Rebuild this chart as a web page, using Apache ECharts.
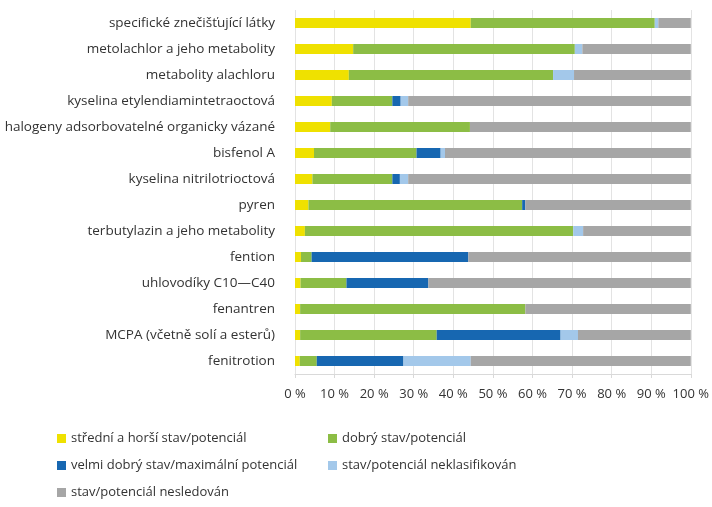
<!DOCTYPE html>
<html>
<head>
    <meta charset="utf-8" />
    <script src="https://cdn.jsdelivr.net/npm/echarts@6.0.0/dist/echarts.min.js"></script>
    <style>
        body { margin: 0; background: #fff; }
        #main { width: 712px; height: 507px; }
    </style>
</head>
<body>
    <div id="main"></div>
<script type="text/javascript">
    // kategorie (shora dolů)
    var categories = [
        'specifické znečišťující látky',
        'metolachlor a jeho metabolity',
        'metabolity alachloru',
        'kyselina etylendiamintetraoctová',
        'halogeny adsorbovatelné organicky vázané',
        'bisfenol A',
        'kyselina nitrilotrioctová',
        'pyren',
        'terbutylazin a jeho metabolity',
        'fention',
        'uhlovodíky C10—C40',
        'fenantren',
        'MCPA (včetně solí a esterů)',
        'fenitrotion'
    ];
    var seriesNames = [
        'střední a horší stav/potenciál',
        'dobrý stav/potenciál',
        'velmi dobrý stav/maximální potenciál',
        'stav/potenciál neklasifikován',
        'stav/potenciál nesledován'
    ];
    // podíly v %
    var stredni   = [44.4, 14.7, 13.6, 9.3, 8.9, 4.8, 4.4, 3.4, 2.5, 1.5, 1.4, 1.3, 1.3, 1.2];
    var dobry     = [46.5, 56.0, 51.6, 15.3, 35.3, 25.9, 20.2, 54.0, 67.8, 2.7, 11.6, 56.9, 34.5, 4.3];
    var velmi     = [0, 0, 0, 2.1, 0, 6.1, 1.9, 0.8, 0, 39.6, 20.7, 0, 31.3, 21.9];
    var neklas    = [0.9, 1.9, 5.3, 1.9, 0, 1.1, 2.1, 0, 2.5, 0, 0, 0, 4.4, 17.0];
    var nesledovan = [8.2, 27.4, 29.5, 71.4, 55.8, 62.1, 71.4, 41.8, 27.2, 56.2, 66.3, 41.8, 28.5, 55.6];

    var colors = ['#efe100', '#8cbd45', '#1767b1', '#a3c8ea', '#a6a6a6'];
    var values = [stredni, dobry, velmi, neklas, nesledovan];
    var font = '"Open Sans", Lato, sans-serif';

    var chart = echarts.init(document.getElementById('main'));

    var series = [];
    for (var i = 0; i < seriesNames.length; i++) {
        series.push({
            name: seriesNames[i],
            type: 'bar',
            stack: 'total',
            barWidth: 10,
            itemStyle: { color: colors[i] },
            data: values[i]
        });
    }

    var legendText = { fontSize: 13, color: '#333', fontFamily: font };

    chart.setOption({
        animation: false,
        color: colors,
        grid: { left: 295, right: 21, top: 10, bottom: 133 },
        legend: [
            {
                data: [seriesNames[0], seriesNames[2], seriesNames[4]],
                orient: 'vertical',
                left: 52, top: 427,
                itemWidth: 9, itemHeight: 9, itemGap: 14,
                icon: 'rect',
                textStyle: legendText
            },
            {
                data: [seriesNames[1], seriesNames[3]],
                orient: 'vertical',
                left: 323, top: 427,
                itemWidth: 9, itemHeight: 9, itemGap: 14,
                icon: 'rect',
                textStyle: legendText
            }
        ],
        xAxis: {
            type: 'value',
            min: 0, max: 100, interval: 10,
            axisLine: { show: true, lineStyle: { color: '#d9d9d9' } },
            axisTick: { show: true, length: 4, lineStyle: { color: '#d9d9d9' } },
            splitLine: { show: true, lineStyle: { color: '#e3e3e3' } },
            axisLabel: {
                formatter: '{value} %',
                fontSize: 13, color: '#333', fontFamily: font, margin: 14
            }
        },
        yAxis: {
            type: 'category',
            inverse: true,
            data: categories,
            axisLine: { show: false },
            axisTick: { show: false },
            axisLabel: { fontSize: 13.5, color: '#333', fontFamily: font, margin: 20 }
        },
        series: series
    });
</script>
</body>
</html>
